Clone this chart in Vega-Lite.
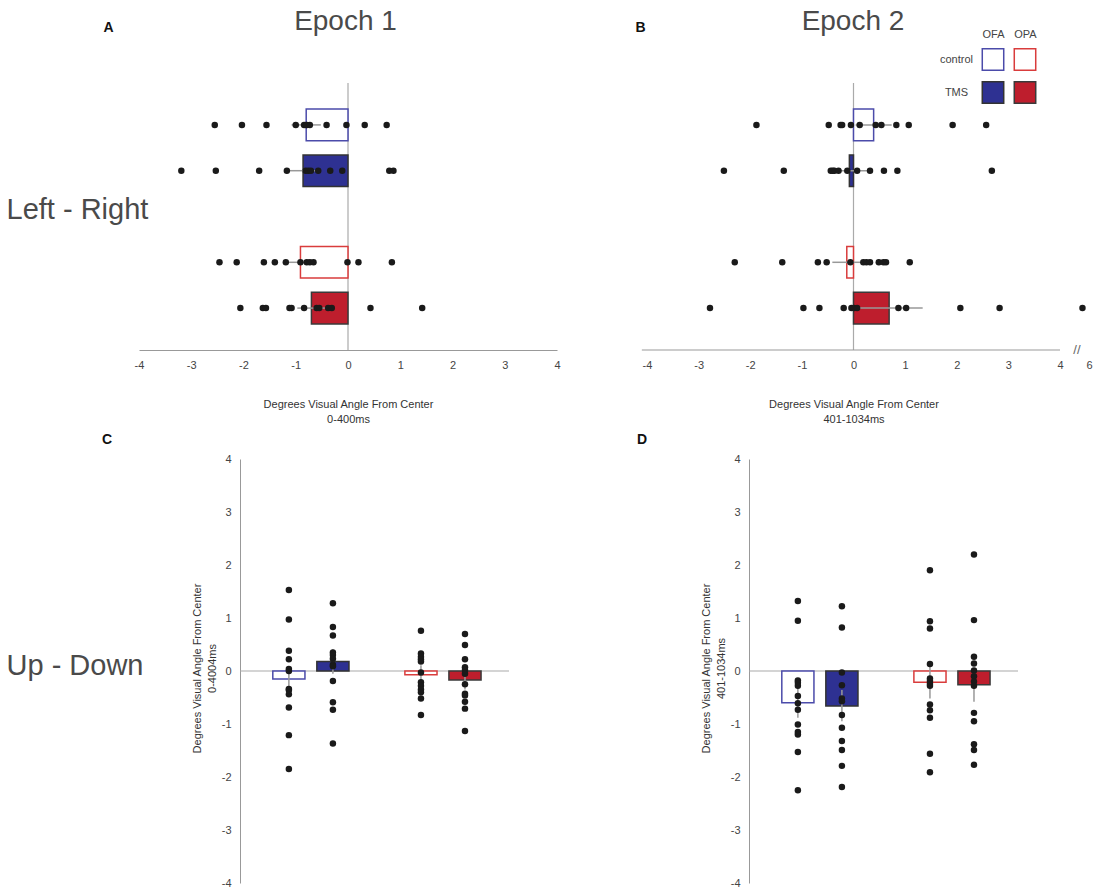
{
  "$schema": "https://vega.github.io/schema/vega-lite/v6.json",
  "background": "white",
  "padding": {"left": 6, "top": 8, "right": 5, "bottom": 0},
  "datasets": {
    "bars": [
      {"p": "A", "g": "control OFA", "m": -0.80, "lo": -1.08, "hi": -0.52},
      {"p": "A", "g": "TMS OFA", "m": -0.86, "lo": -1.13, "hi": -0.55},
      {"p": "A", "g": "control OPA", "m": -0.91, "lo": -1.13, "hi": -0.68},
      {"p": "A", "g": "TMS OPA", "m": -0.70, "lo": -0.97, "hi": -0.43},
      {"p": "B", "g": "control OFA", "m": 0.39, "lo": 0.04, "hi": 0.74},
      {"p": "B", "g": "TMS OFA", "m": -0.08, "lo": -0.43, "hi": 0.27},
      {"p": "B", "g": "control OPA", "m": -0.13, "lo": -0.41, "hi": 0.15},
      {"p": "B", "g": "TMS OPA", "m": 0.69, "lo": 0.04, "hi": 1.34},
      {"p": "C", "g": "control OFA", "m": -0.15, "lo": -0.35, "hi": 0.05},
      {"p": "C", "g": "TMS OFA", "m": 0.18, "lo": -0.05, "hi": 0.41},
      {"p": "C", "g": "control OPA", "m": -0.07, "lo": -0.25, "hi": 0.11},
      {"p": "C", "g": "TMS OPA", "m": -0.17, "lo": -0.35, "hi": 0.01},
      {"p": "D", "g": "control OFA", "m": -0.60, "lo": -0.88, "hi": -0.30},
      {"p": "D", "g": "TMS OFA", "m": -0.66, "lo": -0.95, "hi": -0.36},
      {"p": "D", "g": "control OPA", "m": -0.21, "lo": -0.52, "hi": 0.10},
      {"p": "D", "g": "TMS OPA", "m": -0.26, "lo": -0.58, "hi": 0.06}
    ],
    "dots": [
      {"p": "A", "g": "control OFA", "v": -2.55}, {"p": "A", "g": "control OFA", "v": -2.03}, {"p": "A", "g": "control OFA", "v": -1.56},
      {"p": "A", "g": "control OFA", "v": -1.00}, {"p": "A", "g": "control OFA", "v": -0.84}, {"p": "A", "g": "control OFA", "v": -0.80},
      {"p": "A", "g": "control OFA", "v": -0.79}, {"p": "A", "g": "control OFA", "v": -0.73}, {"p": "A", "g": "control OFA", "v": -0.41},
      {"p": "A", "g": "control OFA", "v": -0.03}, {"p": "A", "g": "control OFA", "v": 0.32}, {"p": "A", "g": "control OFA", "v": 0.74},
      {"p": "A", "g": "TMS OFA", "v": -3.19}, {"p": "A", "g": "TMS OFA", "v": -2.53}, {"p": "A", "g": "TMS OFA", "v": -1.70},
      {"p": "A", "g": "TMS OFA", "v": -1.17}, {"p": "A", "g": "TMS OFA", "v": -0.81}, {"p": "A", "g": "TMS OFA", "v": -0.76},
      {"p": "A", "g": "TMS OFA", "v": -0.71}, {"p": "A", "g": "TMS OFA", "v": -0.57}, {"p": "A", "g": "TMS OFA", "v": -0.34},
      {"p": "A", "g": "TMS OFA", "v": -0.11}, {"p": "A", "g": "TMS OFA", "v": 0.79}, {"p": "A", "g": "TMS OFA", "v": 0.87},
      {"p": "A", "g": "control OPA", "v": -2.46}, {"p": "A", "g": "control OPA", "v": -2.13}, {"p": "A", "g": "control OPA", "v": -1.61},
      {"p": "A", "g": "control OPA", "v": -1.40}, {"p": "A", "g": "control OPA", "v": -1.19}, {"p": "A", "g": "control OPA", "v": -0.91},
      {"p": "A", "g": "control OPA", "v": -0.79}, {"p": "A", "g": "control OPA", "v": -0.73}, {"p": "A", "g": "control OPA", "v": -0.66},
      {"p": "A", "g": "control OPA", "v": -0.01}, {"p": "A", "g": "control OPA", "v": 0.20}, {"p": "A", "g": "control OPA", "v": 0.84},
      {"p": "A", "g": "TMS OPA", "v": -2.06}, {"p": "A", "g": "TMS OPA", "v": -1.63}, {"p": "A", "g": "TMS OPA", "v": -1.57},
      {"p": "A", "g": "TMS OPA", "v": -1.12}, {"p": "A", "g": "TMS OPA", "v": -1.08}, {"p": "A", "g": "TMS OPA", "v": -0.84},
      {"p": "A", "g": "TMS OPA", "v": -0.60}, {"p": "A", "g": "TMS OPA", "v": -0.55}, {"p": "A", "g": "TMS OPA", "v": -0.38},
      {"p": "A", "g": "TMS OPA", "v": -0.31}, {"p": "A", "g": "TMS OPA", "v": 0.43}, {"p": "A", "g": "TMS OPA", "v": 1.42},
      {"p": "B", "g": "control OFA", "v": -1.88}, {"p": "B", "g": "control OFA", "v": -0.48}, {"p": "B", "g": "control OFA", "v": -0.25},
      {"p": "B", "g": "control OFA", "v": -0.22}, {"p": "B", "g": "control OFA", "v": -0.05}, {"p": "B", "g": "control OFA", "v": 0.12},
      {"p": "B", "g": "control OFA", "v": 0.43}, {"p": "B", "g": "control OFA", "v": 0.54}, {"p": "B", "g": "control OFA", "v": 0.83},
      {"p": "B", "g": "control OFA", "v": 1.07}, {"p": "B", "g": "control OFA", "v": 1.92}, {"p": "B", "g": "control OFA", "v": 2.57},
      {"p": "B", "g": "TMS OFA", "v": -2.51}, {"p": "B", "g": "TMS OFA", "v": -1.35}, {"p": "B", "g": "TMS OFA", "v": -0.44},
      {"p": "B", "g": "TMS OFA", "v": -0.40}, {"p": "B", "g": "TMS OFA", "v": -0.37}, {"p": "B", "g": "TMS OFA", "v": -0.29},
      {"p": "B", "g": "TMS OFA", "v": -0.12}, {"p": "B", "g": "TMS OFA", "v": 0.07}, {"p": "B", "g": "TMS OFA", "v": 0.32},
      {"p": "B", "g": "TMS OFA", "v": 0.59}, {"p": "B", "g": "TMS OFA", "v": 0.85}, {"p": "B", "g": "TMS OFA", "v": 2.68},
      {"p": "B", "g": "control OPA", "v": -2.30}, {"p": "B", "g": "control OPA", "v": -1.38}, {"p": "B", "g": "control OPA", "v": -0.69},
      {"p": "B", "g": "control OPA", "v": -0.52}, {"p": "B", "g": "control OPA", "v": -0.06}, {"p": "B", "g": "control OPA", "v": 0.19},
      {"p": "B", "g": "control OPA", "v": 0.25}, {"p": "B", "g": "control OPA", "v": 0.32}, {"p": "B", "g": "control OPA", "v": 0.49},
      {"p": "B", "g": "control OPA", "v": 0.58}, {"p": "B", "g": "control OPA", "v": 0.63}, {"p": "B", "g": "control OPA", "v": 1.09},
      {"p": "B", "g": "TMS OPA", "v": -2.78}, {"p": "B", "g": "TMS OPA", "v": -0.97}, {"p": "B", "g": "TMS OPA", "v": -0.66},
      {"p": "B", "g": "TMS OPA", "v": -0.19}, {"p": "B", "g": "TMS OPA", "v": -0.04}, {"p": "B", "g": "TMS OPA", "v": 0.01},
      {"p": "B", "g": "TMS OPA", "v": 0.07}, {"p": "B", "g": "TMS OPA", "v": 0.87}, {"p": "B", "g": "TMS OPA", "v": 1.02},
      {"p": "B", "g": "TMS OPA", "v": 2.07}, {"p": "B", "g": "TMS OPA", "v": 2.83}, {"p": "B", "g": "TMS OPA", "v": 5.55},
      {"p": "C", "g": "control OFA", "v": 1.53}, {"p": "C", "g": "control OFA", "v": 0.97}, {"p": "C", "g": "control OFA", "v": 0.38},
      {"p": "C", "g": "control OFA", "v": 0.22}, {"p": "C", "g": "control OFA", "v": 0.04}, {"p": "C", "g": "control OFA", "v": 0.00},
      {"p": "C", "g": "control OFA", "v": -0.34}, {"p": "C", "g": "control OFA", "v": -0.36}, {"p": "C", "g": "control OFA", "v": -0.44},
      {"p": "C", "g": "control OFA", "v": -0.69}, {"p": "C", "g": "control OFA", "v": -1.21}, {"p": "C", "g": "control OFA", "v": -1.85},
      {"p": "C", "g": "TMS OFA", "v": 1.28}, {"p": "C", "g": "TMS OFA", "v": 0.83}, {"p": "C", "g": "TMS OFA", "v": 0.67},
      {"p": "C", "g": "TMS OFA", "v": 0.35}, {"p": "C", "g": "TMS OFA", "v": 0.30}, {"p": "C", "g": "TMS OFA", "v": 0.23},
      {"p": "C", "g": "TMS OFA", "v": 0.12}, {"p": "C", "g": "TMS OFA", "v": 0.09}, {"p": "C", "g": "TMS OFA", "v": -0.19},
      {"p": "C", "g": "TMS OFA", "v": -0.59}, {"p": "C", "g": "TMS OFA", "v": -0.73}, {"p": "C", "g": "TMS OFA", "v": -1.37},
      {"p": "C", "g": "control OPA", "v": 0.76}, {"p": "C", "g": "control OPA", "v": 0.33}, {"p": "C", "g": "control OPA", "v": 0.27},
      {"p": "C", "g": "control OPA", "v": 0.22}, {"p": "C", "g": "control OPA", "v": 0.18}, {"p": "C", "g": "control OPA", "v": -0.03},
      {"p": "C", "g": "control OPA", "v": -0.21}, {"p": "C", "g": "control OPA", "v": -0.28}, {"p": "C", "g": "control OPA", "v": -0.35},
      {"p": "C", "g": "control OPA", "v": -0.40}, {"p": "C", "g": "control OPA", "v": -0.52}, {"p": "C", "g": "control OPA", "v": -0.83},
      {"p": "C", "g": "TMS OPA", "v": 0.70}, {"p": "C", "g": "TMS OPA", "v": 0.49}, {"p": "C", "g": "TMS OPA", "v": 0.22},
      {"p": "C", "g": "TMS OPA", "v": 0.07}, {"p": "C", "g": "TMS OPA", "v": 0.02}, {"p": "C", "g": "TMS OPA", "v": -0.05},
      {"p": "C", "g": "TMS OPA", "v": -0.25}, {"p": "C", "g": "TMS OPA", "v": -0.43}, {"p": "C", "g": "TMS OPA", "v": -0.46},
      {"p": "C", "g": "TMS OPA", "v": -0.58}, {"p": "C", "g": "TMS OPA", "v": -0.71}, {"p": "C", "g": "TMS OPA", "v": -1.13},
      {"p": "D", "g": "control OFA", "v": 1.32}, {"p": "D", "g": "control OFA", "v": 0.95}, {"p": "D", "g": "control OFA", "v": -0.18},
      {"p": "D", "g": "control OFA", "v": -0.22}, {"p": "D", "g": "control OFA", "v": -0.28}, {"p": "D", "g": "control OFA", "v": -0.47},
      {"p": "D", "g": "control OFA", "v": -0.61}, {"p": "D", "g": "control OFA", "v": -0.73}, {"p": "D", "g": "control OFA", "v": -1.01},
      {"p": "D", "g": "control OFA", "v": -1.15}, {"p": "D", "g": "control OFA", "v": -1.20}, {"p": "D", "g": "control OFA", "v": -1.53},
      {"p": "D", "g": "control OFA", "v": -2.25},
      {"p": "D", "g": "TMS OFA", "v": 1.22}, {"p": "D", "g": "TMS OFA", "v": 0.82}, {"p": "D", "g": "TMS OFA", "v": -0.03},
      {"p": "D", "g": "TMS OFA", "v": -0.27}, {"p": "D", "g": "TMS OFA", "v": -0.52}, {"p": "D", "g": "TMS OFA", "v": -0.57},
      {"p": "D", "g": "TMS OFA", "v": -0.83}, {"p": "D", "g": "TMS OFA", "v": -1.07}, {"p": "D", "g": "TMS OFA", "v": -1.32},
      {"p": "D", "g": "TMS OFA", "v": -1.49}, {"p": "D", "g": "TMS OFA", "v": -1.79}, {"p": "D", "g": "TMS OFA", "v": -2.19},
      {"p": "D", "g": "control OPA", "v": 1.90}, {"p": "D", "g": "control OPA", "v": 0.94}, {"p": "D", "g": "control OPA", "v": 0.80},
      {"p": "D", "g": "control OPA", "v": 0.13}, {"p": "D", "g": "control OPA", "v": -0.14}, {"p": "D", "g": "control OPA", "v": -0.19},
      {"p": "D", "g": "control OPA", "v": -0.24}, {"p": "D", "g": "control OPA", "v": -0.28}, {"p": "D", "g": "control OPA", "v": -0.63},
      {"p": "D", "g": "control OPA", "v": -0.74}, {"p": "D", "g": "control OPA", "v": -0.88}, {"p": "D", "g": "control OPA", "v": -1.56},
      {"p": "D", "g": "control OPA", "v": -1.91},
      {"p": "D", "g": "TMS OPA", "v": 2.20}, {"p": "D", "g": "TMS OPA", "v": 0.96}, {"p": "D", "g": "TMS OPA", "v": 0.27},
      {"p": "D", "g": "TMS OPA", "v": 0.14}, {"p": "D", "g": "TMS OPA", "v": 0.01}, {"p": "D", "g": "TMS OPA", "v": -0.10},
      {"p": "D", "g": "TMS OPA", "v": -0.20}, {"p": "D", "g": "TMS OPA", "v": -0.28}, {"p": "D", "g": "TMS OPA", "v": -0.79},
      {"p": "D", "g": "TMS OPA", "v": -0.95}, {"p": "D", "g": "TMS OPA", "v": -1.38}, {"p": "D", "g": "TMS OPA", "v": -1.49},
      {"p": "D", "g": "TMS OPA", "v": -1.77}
    ],
    "key": [
      {"cond": "control", "region": "OFA", "g": "control OFA"},
      {"cond": "control", "region": "OPA", "g": "control OPA"},
      {"cond": "TMS", "region": "OFA", "g": "TMS OFA"},
      {"cond": "TMS", "region": "OPA", "g": "TMS OPA"}
    ]
  },
  "columns": 2,
  "spacing": {"row": 109, "column": 192},
  "bounds": "flush",
  "align": "each",
  "concat": [
    {
      "width": 317,
      "height": 267,
      "title": {"text": "Epoch 1", "anchor": "middle", "frame": "group", "dx": -53, "dy": 28, "offset": -10, "baseline": "alphabetic", "fontSize": 28, "fontWeight": "normal", "color": "#4a4a4a"},
      "layer": [
        {
          "data": {"values": [{}]},
          "mark": {"type": "rule", "color": "#aaaaaa", "strokeWidth": 1.2},
          "encoding": {
            "x": {"datum": 0, "type": "quantitative",
              "scale": {"domain": [-4, 4], "range": [-101, 317], "nice": false, "zero": false},
              "axis": {"values": [-4, -3, -2, -1, 0, 1, 2, 3, 4], "labelExpr": "'' + datum.value", "labelFlush": false, "labelOverlap": false, "domain": true, "domainColor": "#999999", "ticks": false, "grid": false, "labelPadding": 9, "labelFontSize": 11, "labelColor": "#444444", "title": ["Degrees Visual Angle From Center", "0-400ms"], "titleFontSize": 11, "titleFontWeight": "normal", "titleColor": "#333333", "titleLineHeight": 15, "titleBaseline": "top", "titleY": 48}}
          }
        },
        {
          "data": {"name": "bars"},
          "transform": [{"filter": "datum.p == 'A'"}],
          "mark": {"type": "bar", "strokeWidth": 1.5},
          "encoding": {
            "y": {"field": "g", "type": "nominal",
              "scale": {"type": "band", "domain": ["control OFA", "TMS OFA", "gap", "control OPA", "TMS OPA"], "paddingInner": 0.31, "paddingOuter": 0.57},
              "axis": {"orient": "left", "domain": false, "ticks": false, "labels": false, "grid": false, "title": "Left - Right", "titleAngle": 0, "titleAlign": "left", "titleBaseline": "alphabetic", "titleX": -234, "titleY": 135, "titleFontSize": 29, "titleFontWeight": "normal", "titleColor": "#4a4a4a"}},
            "x": {"field": "m", "type": "quantitative", "scale": {"domain": [-4, 4], "range": [-101, 317], "nice": false, "zero": false},
              "axis": {"values": [-4, -3, -2, -1, 0, 1, 2, 3, 4], "labelExpr": "'' + datum.value", "labelFlush": false, "labelOverlap": false, "domain": true, "domainColor": "#999999", "ticks": false, "grid": false, "labelPadding": 9, "labelFontSize": 11, "labelColor": "#444444", "title": ["Degrees Visual Angle From Center", "0-400ms"], "titleFontSize": 11, "titleFontWeight": "normal", "titleColor": "#333333", "titleLineHeight": 15, "titleBaseline": "top", "titleY": 48}},
            "fill": {"field": "g", "type": "nominal", "scale": {"domain": ["control OFA", "TMS OFA", "control OPA", "TMS OPA"], "range": ["#ffffff", "#2e3192", "#ffffff", "#be1e2d"]}, "legend": null},
            "stroke": {"field": "g", "type": "nominal", "scale": {"domain": ["control OFA", "TMS OFA", "control OPA", "TMS OPA"], "range": ["#4b4baa", "#333333", "#d93c3c", "#3a3a3a"]}, "legend": null}
          }
        },
        {
          "data": {"name": "bars"},
          "transform": [{"filter": "datum.p == 'A'"}],
          "mark": {"type": "rule", "color": "#999999", "strokeWidth": 1.5},
          "encoding": {
            "y": {"field": "g", "type": "nominal", "scale": {"type": "band", "domain": ["control OFA", "TMS OFA", "gap", "control OPA", "TMS OPA"], "paddingInner": 0.31, "paddingOuter": 0.57}, "axis": null},
            "x": {"field": "lo", "type": "quantitative", "scale": {"domain": [-4, 4], "range": [-101, 317], "nice": false, "zero": false},
              "axis": {"values": [-4, -3, -2, -1, 0, 1, 2, 3, 4], "labelExpr": "'' + datum.value", "labelFlush": false, "labelOverlap": false, "domain": true, "domainColor": "#999999", "ticks": false, "grid": false, "labelPadding": 9, "labelFontSize": 11, "labelColor": "#444444", "title": ["Degrees Visual Angle From Center", "0-400ms"], "titleFontSize": 11, "titleFontWeight": "normal", "titleColor": "#333333", "titleLineHeight": 15, "titleBaseline": "top", "titleY": 48}},
            "x2": {"field": "hi"}
          }
        },
        {
          "data": {"name": "dots"},
          "transform": [{"filter": "datum.p == 'A'"}],
          "mark": {"type": "circle", "size": 42, "color": "#1a1a1a", "opacity": 1},
          "encoding": {
            "y": {"field": "g", "type": "nominal",
              "scale": {"type": "band", "domain": ["control OFA", "TMS OFA", "gap", "control OPA", "TMS OPA"], "paddingInner": 0.31, "paddingOuter": 0.57},
              "axis": {"orient": "left", "domain": false, "ticks": false, "labels": false, "grid": false, "title": "A", "titleAngle": 0, "titleAlign": "left", "titleBaseline": "alphabetic", "titleX": -137, "titleY": -52, "titleFontSize": 14, "titleFontWeight": "bold", "titleColor": "#111111"}},
            "x": {"field": "v", "type": "quantitative", "scale": {"domain": [-4, 4], "range": [-101, 317], "nice": false, "zero": false},
              "axis": {"values": [-4, -3, -2, -1, 0, 1, 2, 3, 4], "labelExpr": "'' + datum.value", "labelFlush": false, "labelOverlap": false, "domain": true, "domainColor": "#999999", "ticks": false, "grid": false, "labelPadding": 9, "labelFontSize": 11, "labelColor": "#444444", "title": ["Degrees Visual Angle From Center", "0-400ms"], "titleFontSize": 11, "titleFontWeight": "normal", "titleColor": "#333333", "titleLineHeight": 15, "titleBaseline": "top", "titleY": 48}}
          }
        }
      ],
      "resolve": {"axis": {"y": "independent"}}
    },
    {
      "width": 340,
      "height": 267,
      "title": {"text": "Epoch 2", "anchor": "middle", "frame": "group", "dx": -66, "dy": 28, "offset": -10, "baseline": "alphabetic", "fontSize": 28, "fontWeight": "normal", "color": "#4a4a4a"},
      "layer": [
        {
          "layer": [
            {
              "data": {"values": [{}]},
              "mark": {"type": "rule", "color": "#aaaaaa", "strokeWidth": 1.2},
              "encoding": {
                "x": {"datum": 0, "type": "quantitative",
                  "scale": {"domain": [-4, 4, 6], "range": [-102, 311, 340], "nice": false, "zero": false},
                  "axis": {"values": [-4, -3, -2, -1, 0, 1, 2, 3, 4, 6], "labelExpr": "'' + datum.value", "labelFlush": false, "labelOverlap": false, "domain": false, "ticks": false, "grid": false, "labelPadding": 9, "labelFontSize": 11, "labelColor": "#444444", "title": ["Degrees Visual Angle From Center", "401-1034ms"], "titleFontSize": 11, "titleFontWeight": "normal", "titleColor": "#333333", "titleLineHeight": 15, "titleBaseline": "top", "titleAlign": "center", "titleX": 104.5, "titleY": 48}}
              }
            },
            {
              "data": {"values": [{}]},
              "mark": {"type": "rule", "color": "#999999", "strokeWidth": 1},
              "encoding": {
                "x": {"datum": -4.1, "type": "quantitative", "scale": {"domain": [-4, 4, 6], "range": [-102, 311, 340], "nice": false, "zero": false},
                  "axis": {"values": [-4, -3, -2, -1, 0, 1, 2, 3, 4, 6], "labelExpr": "'' + datum.value", "labelFlush": false, "labelOverlap": false, "domain": false, "ticks": false, "grid": false, "labelPadding": 9, "labelFontSize": 11, "labelColor": "#444444", "title": ["Degrees Visual Angle From Center", "401-1034ms"], "titleFontSize": 11, "titleFontWeight": "normal", "titleColor": "#333333", "titleLineHeight": 15, "titleBaseline": "top", "titleAlign": "center", "titleX": 104.5, "titleY": 48}},
                "x2": {"datum": 4},
                "y": {"value": "height"}
              }
            },
            {
              "data": {"values": [{}]},
              "mark": {"type": "text", "text": "//", "fontSize": 13, "color": "#666666", "align": "center", "baseline": "middle"},
              "encoding": {
                "x": {"datum": 5.17, "type": "quantitative", "scale": {"domain": [-4, 4, 6], "range": [-102, 311, 340], "nice": false, "zero": false},
                  "axis": {"values": [-4, -3, -2, -1, 0, 1, 2, 3, 4, 6], "labelExpr": "'' + datum.value", "labelFlush": false, "labelOverlap": false, "domain": false, "ticks": false, "grid": false, "labelPadding": 9, "labelFontSize": 11, "labelColor": "#444444", "title": ["Degrees Visual Angle From Center", "401-1034ms"], "titleFontSize": 11, "titleFontWeight": "normal", "titleColor": "#333333", "titleLineHeight": 15, "titleBaseline": "top", "titleAlign": "center", "titleX": 104.5, "titleY": 48}},
                "y": {"value": "height"}
              }
            },
            {
              "data": {"name": "bars"},
              "transform": [{"filter": "datum.p == 'B'"}],
              "mark": {"type": "bar", "strokeWidth": 1.5},
              "encoding": {
                "y": {"field": "g", "type": "nominal",
                  "scale": {"type": "band", "domain": ["control OFA", "TMS OFA", "gap", "control OPA", "TMS OPA"], "paddingInner": 0.31, "paddingOuter": 0.57},
                  "axis": {"orient": "left", "domain": false, "ticks": false, "labels": false, "grid": false, "title": "B", "titleAngle": 0, "titleAlign": "left", "titleBaseline": "alphabetic", "titleX": -114, "titleY": -52, "titleFontSize": 14, "titleFontWeight": "bold", "titleColor": "#111111"}},
                "x": {"field": "m", "type": "quantitative", "scale": {"domain": [-4, 4, 6], "range": [-102, 311, 340], "nice": false, "zero": false},
                  "axis": {"values": [-4, -3, -2, -1, 0, 1, 2, 3, 4, 6], "labelExpr": "'' + datum.value", "labelFlush": false, "labelOverlap": false, "domain": false, "ticks": false, "grid": false, "labelPadding": 9, "labelFontSize": 11, "labelColor": "#444444", "title": ["Degrees Visual Angle From Center", "401-1034ms"], "titleFontSize": 11, "titleFontWeight": "normal", "titleColor": "#333333", "titleLineHeight": 15, "titleBaseline": "top", "titleAlign": "center", "titleX": 104.5, "titleY": 48}},
                "fill": {"field": "g", "type": "nominal", "scale": {"domain": ["control OFA", "TMS OFA", "control OPA", "TMS OPA"], "range": ["#ffffff", "#2e3192", "#ffffff", "#be1e2d"]}, "legend": null},
                "stroke": {"field": "g", "type": "nominal", "scale": {"domain": ["control OFA", "TMS OFA", "control OPA", "TMS OPA"], "range": ["#4b4baa", "#333333", "#d93c3c", "#3a3a3a"]}, "legend": null}
              }
            },
            {
              "data": {"name": "bars"},
              "transform": [{"filter": "datum.p == 'B'"}],
              "mark": {"type": "rule", "color": "#999999", "strokeWidth": 1.5},
              "encoding": {
                "y": {"field": "g", "type": "nominal",
                  "scale": {"type": "band", "domain": ["control OFA", "TMS OFA", "gap", "control OPA", "TMS OPA"], "paddingInner": 0.31, "paddingOuter": 0.57},
                  "axis": {"orient": "left", "domain": false, "ticks": false, "labels": false, "grid": false, "title": "B", "titleAngle": 0, "titleAlign": "left", "titleBaseline": "alphabetic", "titleX": -114, "titleY": -52, "titleFontSize": 14, "titleFontWeight": "bold", "titleColor": "#111111"}},
                "x": {"field": "lo", "type": "quantitative", "scale": {"domain": [-4, 4, 6], "range": [-102, 311, 340], "nice": false, "zero": false},
                  "axis": {"values": [-4, -3, -2, -1, 0, 1, 2, 3, 4, 6], "labelExpr": "'' + datum.value", "labelFlush": false, "labelOverlap": false, "domain": false, "ticks": false, "grid": false, "labelPadding": 9, "labelFontSize": 11, "labelColor": "#444444", "title": ["Degrees Visual Angle From Center", "401-1034ms"], "titleFontSize": 11, "titleFontWeight": "normal", "titleColor": "#333333", "titleLineHeight": 15, "titleBaseline": "top", "titleAlign": "center", "titleX": 104.5, "titleY": 48}},
                "x2": {"field": "hi"}
              }
            },
            {
              "data": {"name": "dots"},
              "transform": [{"filter": "datum.p == 'B'"}],
              "mark": {"type": "circle", "size": 42, "color": "#1a1a1a", "opacity": 1},
              "encoding": {
                "y": {"field": "g", "type": "nominal",
                  "scale": {"type": "band", "domain": ["control OFA", "TMS OFA", "gap", "control OPA", "TMS OPA"], "paddingInner": 0.31, "paddingOuter": 0.57},
                  "axis": {"orient": "left", "domain": false, "ticks": false, "labels": false, "grid": false, "title": "B", "titleAngle": 0, "titleAlign": "left", "titleBaseline": "alphabetic", "titleX": -114, "titleY": -52, "titleFontSize": 14, "titleFontWeight": "bold", "titleColor": "#111111"}},
                "x": {"field": "v", "type": "quantitative", "scale": {"domain": [-4, 4, 6], "range": [-102, 311, 340], "nice": false, "zero": false},
                  "axis": {"values": [-4, -3, -2, -1, 0, 1, 2, 3, 4, 6], "labelExpr": "'' + datum.value", "labelFlush": false, "labelOverlap": false, "domain": false, "ticks": false, "grid": false, "labelPadding": 9, "labelFontSize": 11, "labelColor": "#444444", "title": ["Degrees Visual Angle From Center", "401-1034ms"], "titleFontSize": 11, "titleFontWeight": "normal", "titleColor": "#333333", "titleLineHeight": 15, "titleBaseline": "top", "titleAlign": "center", "titleX": 104.5, "titleY": 48}}
              }
            }
          ]
        },
        {
          "data": {"name": "key"},
          "mark": {"type": "square", "size": 460, "strokeWidth": 1.5, "opacity": 1},
          "encoding": {
            "x": {"field": "region", "type": "nominal",
              "scale": {"type": "point", "domain": ["OFA", "OPA"], "range": [244, 276], "padding": 0},
              "axis": {"orient": "top", "domain": false, "ticks": false, "grid": false, "labelAngle": 0, "labelPadding": 4, "offset": 40, "title": null, "labelFontSize": 11, "labelColor": "#444444"}},
            "y": {"field": "cond", "type": "nominal",
              "scale": {"type": "point", "domain": ["control", "TMS"], "range": [-23.5, 9.5], "padding": 0},
              "axis": {"orient": "left", "domain": false, "ticks": false, "grid": false, "labelPadding": 0, "offset": -207, "labelAlign": "center", "title": null, "labelFontSize": 11, "labelColor": "#444444"}},
            "fill": {"field": "g", "type": "nominal", "scale": {"domain": ["control OFA", "TMS OFA", "control OPA", "TMS OPA"], "range": ["#ffffff", "#2e3192", "#ffffff", "#be1e2d"]}, "legend": null},
            "stroke": {"field": "g", "type": "nominal", "scale": {"domain": ["control OFA", "TMS OFA", "control OPA", "TMS OPA"], "range": ["#4b4baa", "#333333", "#d93c3c", "#3a3a3a"]}, "legend": null}
          }
        }
      ],
      "resolve": {"scale": {"x": "independent", "y": "independent"}, "axis": {"x": "independent", "y": "independent"}}
    },
    {
      "width": 269,
      "height": 424,
      "title": {"text": "C", "anchor": "start", "frame": "group", "dx": -138, "dy": 14, "offset": 9, "baseline": "alphabetic", "fontSize": 14, "fontWeight": "bold", "color": "#111111"},
      "layer": [
        {
          "data": {"values": [{}]},
          "mark": {"type": "rule", "color": "#aaaaaa", "strokeWidth": 1.2},
          "encoding": {
            "y": {"datum": 0, "type": "quantitative",
              "scale": {"domain": [-4, 4], "nice": false, "zero": false},
              "axis": {"values": [-4, -3, -2, -1, 0, 1, 2, 3, 4], "labelExpr": "'' + datum.value", "labelOverlap": false, "domain": true, "domainColor": "#999999", "ticks": false, "grid": false, "labelPadding": 9, "labelFontSize": 11, "labelColor": "#444444", "title": ["Degrees Visual Angle From Center", "0-4004ms"], "titleFontSize": 11, "titleFontWeight": "normal", "titleColor": "#333333", "titleLineHeight": 15, "titleAngle": 270, "titleAlign": "center", "titleBaseline": "top", "titleX": -49, "titleY": 209}}
          }
        },
        {
          "data": {"name": "bars"},
          "transform": [{"filter": "datum.p == 'C'"}],
          "mark": {"type": "bar", "strokeWidth": 1.5},
          "encoding": {
            "x": {"field": "g", "type": "nominal",
              "scale": {"type": "band", "domain": ["control OFA", "TMS OFA", "gap", "control OPA", "TMS OPA"], "paddingInner": 0.27, "paddingOuter": 0.69, "align": 0.54},
              "axis": {"domain": false, "ticks": false, "labels": false, "grid": false, "title": "Up - Down", "titleAngle": 0, "titleAlign": "left", "titleBaseline": "alphabetic", "titleX": -234, "titleY": -209, "titleFontSize": 29, "titleFontWeight": "normal", "titleColor": "#4a4a4a"}},
            "y": {"field": "m", "type": "quantitative", "scale": {"domain": [-4, 4], "nice": false, "zero": false},
              "axis": {"values": [-4, -3, -2, -1, 0, 1, 2, 3, 4], "labelExpr": "'' + datum.value", "labelOverlap": false, "domain": true, "domainColor": "#999999", "ticks": false, "grid": false, "labelPadding": 9, "labelFontSize": 11, "labelColor": "#444444", "title": ["Degrees Visual Angle From Center", "0-4004ms"], "titleFontSize": 11, "titleFontWeight": "normal", "titleColor": "#333333", "titleLineHeight": 15, "titleAngle": 270, "titleAlign": "center", "titleBaseline": "top", "titleX": -49, "titleY": 209}},
            "fill": {"field": "g", "type": "nominal", "scale": {"domain": ["control OFA", "TMS OFA", "control OPA", "TMS OPA"], "range": ["#ffffff", "#2e3192", "#ffffff", "#be1e2d"]}, "legend": null},
            "stroke": {"field": "g", "type": "nominal", "scale": {"domain": ["control OFA", "TMS OFA", "control OPA", "TMS OPA"], "range": ["#4b4baa", "#333333", "#d93c3c", "#3a3a3a"]}, "legend": null}
          }
        },
        {
          "data": {"name": "bars"},
          "transform": [{"filter": "datum.p == 'C'"}],
          "mark": {"type": "rule", "color": "#999999", "strokeWidth": 1.5},
          "encoding": {
            "x": {"field": "g", "type": "nominal",
              "scale": {"type": "band", "domain": ["control OFA", "TMS OFA", "gap", "control OPA", "TMS OPA"], "paddingInner": 0.27, "paddingOuter": 0.69, "align": 0.54},
              "axis": {"domain": false, "ticks": false, "labels": false, "grid": false, "title": "Up - Down", "titleAngle": 0, "titleAlign": "left", "titleBaseline": "alphabetic", "titleX": -234, "titleY": -209, "titleFontSize": 29, "titleFontWeight": "normal", "titleColor": "#4a4a4a"}},
            "y": {"field": "lo", "type": "quantitative", "scale": {"domain": [-4, 4], "nice": false, "zero": false},
              "axis": {"values": [-4, -3, -2, -1, 0, 1, 2, 3, 4], "labelExpr": "'' + datum.value", "labelOverlap": false, "domain": true, "domainColor": "#999999", "ticks": false, "grid": false, "labelPadding": 9, "labelFontSize": 11, "labelColor": "#444444", "title": ["Degrees Visual Angle From Center", "0-4004ms"], "titleFontSize": 11, "titleFontWeight": "normal", "titleColor": "#333333", "titleLineHeight": 15, "titleAngle": 270, "titleAlign": "center", "titleBaseline": "top", "titleX": -49, "titleY": 209}},
            "y2": {"field": "hi"}
          }
        },
        {
          "data": {"name": "dots"},
          "transform": [{"filter": "datum.p == 'C'"}],
          "mark": {"type": "circle", "size": 42, "color": "#1a1a1a", "opacity": 1},
          "encoding": {
            "x": {"field": "g", "type": "nominal",
              "scale": {"type": "band", "domain": ["control OFA", "TMS OFA", "gap", "control OPA", "TMS OPA"], "paddingInner": 0.27, "paddingOuter": 0.69, "align": 0.54},
              "axis": {"domain": false, "ticks": false, "labels": false, "grid": false, "title": "Up - Down", "titleAngle": 0, "titleAlign": "left", "titleBaseline": "alphabetic", "titleX": -234, "titleY": -209, "titleFontSize": 29, "titleFontWeight": "normal", "titleColor": "#4a4a4a"}},
            "y": {"field": "v", "type": "quantitative", "scale": {"domain": [-4, 4], "nice": false, "zero": false},
              "axis": {"values": [-4, -3, -2, -1, 0, 1, 2, 3, 4], "labelExpr": "'' + datum.value", "labelOverlap": false, "domain": true, "domainColor": "#999999", "ticks": false, "grid": false, "labelPadding": 9, "labelFontSize": 11, "labelColor": "#444444", "title": ["Degrees Visual Angle From Center", "0-4004ms"], "titleFontSize": 11, "titleFontWeight": "normal", "titleColor": "#333333", "titleLineHeight": 15, "titleAngle": 270, "titleAlign": "center", "titleBaseline": "top", "titleX": -49, "titleY": 209}}
          }
        }
      ]
    },
    {
      "width": 269,
      "height": 424,
      "title": {"text": "D", "anchor": "start", "frame": "group", "dx": -112, "dy": 14, "offset": 9, "baseline": "alphabetic", "fontSize": 14, "fontWeight": "bold", "color": "#111111"},
      "layer": [
        {
          "data": {"values": [{}]},
          "mark": {"type": "rule", "color": "#aaaaaa", "strokeWidth": 1.2},
          "encoding": {
            "y": {"datum": 0, "type": "quantitative",
              "scale": {"domain": [-4, 4], "nice": false, "zero": false},
              "axis": {"values": [-4, -3, -2, -1, 0, 1, 2, 3, 4], "labelExpr": "'' + datum.value", "labelOverlap": false, "domain": true, "domainColor": "#999999", "ticks": false, "grid": false, "labelPadding": 9, "labelFontSize": 11, "labelColor": "#444444", "title": ["Degrees Visual Angle From Center", "401-1034ms"], "titleFontSize": 11, "titleFontWeight": "normal", "titleColor": "#333333", "titleLineHeight": 15, "titleAngle": 270, "titleAlign": "center", "titleBaseline": "top", "titleX": -49, "titleY": 209}}
          }
        },
        {
          "data": {"name": "bars"},
          "transform": [{"filter": "datum.p == 'D'"}],
          "mark": {"type": "bar", "strokeWidth": 1.5},
          "encoding": {
            "x": {"field": "g", "type": "nominal",
              "scale": {"type": "band", "domain": ["control OFA", "TMS OFA", "gap", "control OPA", "TMS OPA"], "paddingInner": 0.27, "paddingOuter": 0.69, "align": 0.54},
              "axis": null},
            "y": {"field": "m", "type": "quantitative", "scale": {"domain": [-4, 4], "nice": false, "zero": false},
              "axis": {"values": [-4, -3, -2, -1, 0, 1, 2, 3, 4], "labelExpr": "'' + datum.value", "labelOverlap": false, "domain": true, "domainColor": "#999999", "ticks": false, "grid": false, "labelPadding": 9, "labelFontSize": 11, "labelColor": "#444444", "title": ["Degrees Visual Angle From Center", "401-1034ms"], "titleFontSize": 11, "titleFontWeight": "normal", "titleColor": "#333333", "titleLineHeight": 15, "titleAngle": 270, "titleAlign": "center", "titleBaseline": "top", "titleX": -49, "titleY": 209}},
            "fill": {"field": "g", "type": "nominal", "scale": {"domain": ["control OFA", "TMS OFA", "control OPA", "TMS OPA"], "range": ["#ffffff", "#2e3192", "#ffffff", "#be1e2d"]}, "legend": null},
            "stroke": {"field": "g", "type": "nominal", "scale": {"domain": ["control OFA", "TMS OFA", "control OPA", "TMS OPA"], "range": ["#4b4baa", "#333333", "#d93c3c", "#3a3a3a"]}, "legend": null}
          }
        },
        {
          "data": {"name": "bars"},
          "transform": [{"filter": "datum.p == 'D'"}],
          "mark": {"type": "rule", "color": "#999999", "strokeWidth": 1.5},
          "encoding": {
            "x": {"field": "g", "type": "nominal",
              "scale": {"type": "band", "domain": ["control OFA", "TMS OFA", "gap", "control OPA", "TMS OPA"], "paddingInner": 0.27, "paddingOuter": 0.69, "align": 0.54},
              "axis": null},
            "y": {"field": "lo", "type": "quantitative", "scale": {"domain": [-4, 4], "nice": false, "zero": false},
              "axis": {"values": [-4, -3, -2, -1, 0, 1, 2, 3, 4], "labelExpr": "'' + datum.value", "labelOverlap": false, "domain": true, "domainColor": "#999999", "ticks": false, "grid": false, "labelPadding": 9, "labelFontSize": 11, "labelColor": "#444444", "title": ["Degrees Visual Angle From Center", "401-1034ms"], "titleFontSize": 11, "titleFontWeight": "normal", "titleColor": "#333333", "titleLineHeight": 15, "titleAngle": 270, "titleAlign": "center", "titleBaseline": "top", "titleX": -49, "titleY": 209}},
            "y2": {"field": "hi"}
          }
        },
        {
          "data": {"name": "dots"},
          "transform": [{"filter": "datum.p == 'D'"}],
          "mark": {"type": "circle", "size": 42, "color": "#1a1a1a", "opacity": 1},
          "encoding": {
            "x": {"field": "g", "type": "nominal",
              "scale": {"type": "band", "domain": ["control OFA", "TMS OFA", "gap", "control OPA", "TMS OPA"], "paddingInner": 0.27, "paddingOuter": 0.69, "align": 0.54},
              "axis": null},
            "y": {"field": "v", "type": "quantitative", "scale": {"domain": [-4, 4], "nice": false, "zero": false},
              "axis": {"values": [-4, -3, -2, -1, 0, 1, 2, 3, 4], "labelExpr": "'' + datum.value", "labelOverlap": false, "domain": true, "domainColor": "#999999", "ticks": false, "grid": false, "labelPadding": 9, "labelFontSize": 11, "labelColor": "#444444", "title": ["Degrees Visual Angle From Center", "401-1034ms"], "titleFontSize": 11, "titleFontWeight": "normal", "titleColor": "#333333", "titleLineHeight": 15, "titleAngle": 270, "titleAlign": "center", "titleBaseline": "top", "titleX": -49, "titleY": 209}}
          }
        }
      ]
    }
  ],
  "config": {
    "view": {"stroke": null},
    "font": "Liberation Sans",
    "axis": {"tickSize": 0, "labelFont": "Liberation Sans", "titleFont": "Liberation Sans"},
    "title": {"font": "Liberation Sans"}
  }
}
